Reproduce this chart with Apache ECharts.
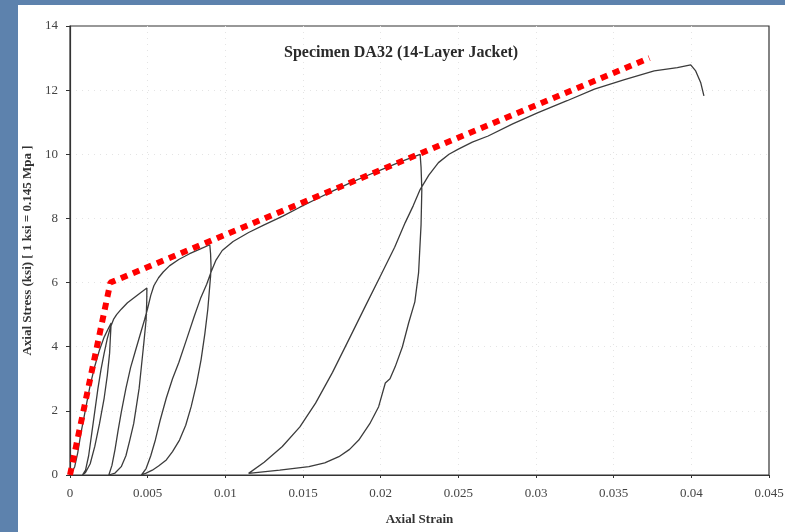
<!DOCTYPE html>
<html>
<head>
<meta charset="utf-8">
<script src="https://cdn.jsdelivr.net/npm/echarts@6/dist/echarts.min.js"></script>
<style>
  html, body { margin: 0; padding: 0; width: 785px; height: 532px; overflow: hidden; background: #5d82ad; }
  #panel { position: absolute; left: 18px; top: 5px; width: 767px; height: 527px; background: #ffffff; }
</style>
</head>
<body>
<div id="panel"></div>
<script>
// Axis tick labels
const xTickLabels = ['0', '0.005', '0.01', '0.015', '0.02', '0.025', '0.03', '0.035', '0.04', '0.045'];
const yTickLabels = ['0', '2', '4', '6', '8', '10', '12', '14'];

// Stress-strain history of specimen DA32, branch by branch: [axial strain, axial stress (ksi)]
const load1 = [[0,0],[0.0001,0.05],[0.0003,0.25],[0.0005,0.7],[0.0007,1.3],[0.0009,1.8],[0.0011,2.3],[0.0013,2.8],[0.0016,3.4],[0.0019,3.9],[0.0022,4.3],[0.0025,4.6],[0.00265,4.74]];
const unload1 = [[0.00265,4.74],[0.0026,4.3],[0.00255,3.8],[0.0024,3.1],[0.0022,2.4],[0.0019,1.6],[0.0016,0.9],[0.0013,0.35],[0.001,0.08],[0.0008,0]];
const reload1 = [[0.0008,0],[0.001,0.15],[0.0012,0.6],[0.0014,1.3],[0.0016,2.0],[0.0018,2.7],[0.002,3.3],[0.0022,3.8],[0.0024,4.25],[0.0026,4.6],[0.0028,4.85],[0.003,5.0],[0.0033,5.17],[0.0037,5.37],[0.0041,5.52],[0.0045,5.67],[0.00495,5.83]];
const unload2 = [[0.00495,5.83],[0.00494,5.4],[0.0049,4.84],[0.00475,4.1],[0.0046,3.4],[0.00445,2.7],[0.00427,2.13],[0.0041,1.6],[0.00385,1.09],[0.0036,0.6],[0.0033,0.26],[0.0029,0.06],[0.0025,0]];
const reload2 = [[0.0025,0],[0.0027,0.3],[0.0029,0.8],[0.0031,1.4],[0.0033,1.95],[0.0036,2.7],[0.0039,3.35],[0.0042,3.85],[0.0045,4.35],[0.0048,4.84],[0.005,5.2],[0.0052,5.6],[0.0054,5.9],[0.0057,6.15],[0.006,6.33],[0.0064,6.52],[0.007,6.72],[0.0077,6.9],[0.0084,7.05],[0.009,7.18]];
const unload3 = [[0.009,7.18],[0.00905,6.9],[0.00908,6.5],[0.00905,6.2],[0.00887,5.16],[0.00868,4.4],[0.00844,3.6],[0.00815,2.85],[0.0078,2.13],[0.00745,1.55],[0.00705,1.09],[0.0066,0.73],[0.0062,0.47],[0.0057,0.28],[0.0053,0.15],[0.0049,0.06],[0.0046,0]];
const reload3 = [[0.0046,0],[0.0049,0.2],[0.0052,0.6],[0.0055,1.1],[0.0058,1.7],[0.0062,2.4],[0.0066,3.0],[0.007,3.5],[0.0075,4.22],[0.008,4.95],[0.0084,5.5],[0.0088,5.95],[0.0091,6.35],[0.0094,6.7],[0.0098,7.0],[0.0105,7.28],[0.0115,7.56],[0.0125,7.8],[0.0137,8.07],[0.0148,8.35],[0.0158,8.59],[0.0169,8.85],[0.018,9.1],[0.0191,9.33],[0.0201,9.53],[0.0213,9.77],[0.02254,10.0]];
const unload4 = [[0.02254,10.0],[0.0226,9.6],[0.02265,8.9],[0.0226,7.8],[0.02244,6.3],[0.0222,5.4],[0.0218,4.74],[0.0214,4.0],[0.02094,3.38],[0.0206,3.0],[0.0203,2.87],[0.01987,2.13],[0.0193,1.6],[0.01859,1.09],[0.018,0.8],[0.01731,0.57],[0.0164,0.38],[0.01538,0.26],[0.0135,0.15],[0.0115,0.05]];
const reload4 = [[0.0115,0.05],[0.0125,0.4],[0.01367,0.89],[0.0148,1.5],[0.01581,2.24],[0.0169,3.2],[0.01795,4.22],[0.019,5.25],[0.02008,6.3],[0.0209,7.1],[0.02158,7.87],[0.0221,8.4],[0.02254,8.9],[0.0231,9.35],[0.02372,9.74],[0.0244,10.0],[0.025,10.16],[0.0259,10.38],[0.02692,10.57],[0.0285,10.95],[0.03013,11.3],[0.032,11.67],[0.03376,12.03],[0.0357,12.33],[0.03761,12.6],[0.0391,12.7],[0.03996,12.79],[0.04028,12.6],[0.0406,12.24],[0.04081,11.82]];

// Bilinear idealisation of the envelope (red dotted)
const bilinear = [[0,0],[0.0026,6.0],[0.0373,13.0]];

const history = [].concat(load1, unload1, reload1, unload2, reload2, unload3, reload3, unload4, reload4);

const serif = '"Liberation Serif", "Times New Roman", serif';
const chart = echarts.init(document.getElementById('panel'), null, { renderer: 'canvas' });

const faintGrid = { show: true, showMinLine: false, showMaxLine: false, lineStyle: { color: '#e4e4e4', type: [1, 5] } };

chart.setOption({
  animation: false,
  backgroundColor: '#ffffff',
  title: {
    text: 'Specimen DA32 (14-Layer Jacket)',
    left: 266,
    top: 40,
    padding: 0,
    textStyle: { fontFamily: serif, fontSize: 16, fontWeight: 'bold', color: '#2a2a2a' }
  },
  grid: {
    left: 52, right: 16, top: 21, bottom: 57,
    outerBoundsMode: 'none',
    containLabel: false,
    show: true, borderColor: '#333', borderWidth: 1.2
  },
  xAxis: {
    type: 'value',
    min: 0, max: 0.045, interval: 0.005,
    name: 'Axial Strain',
    nameLocation: 'middle',
    nameGap: 38,
    nameTextStyle: { fontFamily: serif, fontSize: 13, fontWeight: 'bold', color: '#333' },
    axisLine: { lineStyle: { color: '#333', width: 1.2 } },
    axisTick: { show: true, length: 3, lineStyle: { color: '#333' } },
    axisLabel: {
      margin: 12, fontFamily: serif, fontSize: 13, color: '#444',
      formatter: v => xTickLabels[Math.round(v / 0.005)]
    },
    splitLine: faintGrid
  },
  yAxis: {
    type: 'value',
    min: 0, max: 14, interval: 2,
    name: 'Axial Stress (ksi) [ 1 ksi = 0.145 Mpa ]',
    nameLocation: 'middle',
    nameGap: 34,
    nameTextStyle: { fontFamily: serif, fontSize: 13, fontWeight: 'bold', color: '#333' },
    axisLine: { show: true, lineStyle: { color: '#333', width: 1.2 } },
    axisTick: { show: true, length: 4, lineStyle: { color: '#333' } },
    axisLabel: {
      margin: 12, fontFamily: serif, fontSize: 13, color: '#444',
      formatter: v => yTickLabels[Math.round(v / 2)]
    },
    splitLine: faintGrid
  },
  series: [
    {
      name: 'DA32',
      type: 'line',
      data: history,
      showSymbol: false,
      smooth: false,
      lineStyle: { color: '#3c3c3c', width: 1.3 },
      z: 2
    },
    {
      name: 'Bilinear',
      type: 'line',
      data: bilinear,
      showSymbol: false,
      lineStyle: { color: '#ff0000', width: 6, type: [7, 6], cap: 'butt' },
      z: 3
    }
  ]
});
</script>
</body>
</html>
